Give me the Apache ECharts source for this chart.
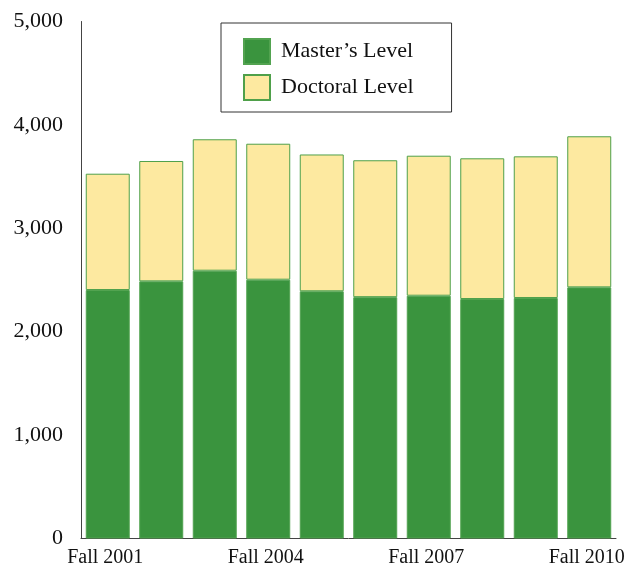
<!DOCTYPE html>
<html>
<head>
<meta charset="utf-8">
<script src="https://cdn.jsdelivr.net/npm/echarts@6/dist/echarts.min.js"></script>
<style>
html,body{margin:0;padding:0;background:#fff;}
#chart{width:628px;height:571px;}
</style>
</head>
<body>
<div id="chart"></div>
<script>
const categories = ["Fall 2001","Fall 2002","Fall 2003","Fall 2004","Fall 2005","Fall 2006","Fall 2007","Fall 2008","Fall 2009","Fall 2010"];
const mastersLevel = [2403, 2487, 2590, 2503, 2391, 2334, 2348, 2316, 2326, 2429];
const doctoralLevel = [1125, 1164, 1271, 1315, 1323, 1324, 1354, 1361, 1370, 1461];
const yTicks = [0, 1000, 2000, 3000, 4000, 5000];

const chart = echarts.init(document.getElementById('chart'), null, {renderer:'canvas'});
const font = '"Liberation Serif", "Times New Roman", serif';
chart.setOption({
  animation: false,
  backgroundColor: '#ffffff',
  grid: {left: 81, right: 12, top: 21.5, bottom: 32.5, containLabel: false},
  legend: {
    orient: 'vertical',
    left: 221, top: 23,
    padding: [15, 38, 11, 22],
    itemWidth: 26, itemHeight: 25, itemGap: 9,
    icon: 'rect',
    borderColor: '#333', borderWidth: 1,
    backgroundColor: '#fff',
    textStyle: {fontFamily: font, fontSize: 22, color: '#111', padding: [0,0,0,6]},
    data: ['Master’s Level', 'Doctoral Level']
  },
  xAxis: {
    type: 'category',
    data: categories,
    axisLine: {show: true, lineStyle: {color: '#444', width: 1}},
    axisTick: {show: false},
    axisLabel: {interval: 2, fontFamily: font, fontSize: 20, color: '#111', margin: 9, padding: [0, 5, 0, 0]}
  },
  yAxis: {
    type: 'value',
    min: yTicks[0], max: yTicks[yTicks.length-1], interval: 1000,
    axisLine: {show: true, lineStyle: {color: '#444', width: 1}},
    axisTick: {show: false},
    splitLine: {show: false},
    axisLabel: {
      fontFamily: font, fontSize: 22, color: '#111', margin: 18,
      formatter: v => v.toLocaleString('en-US')
    }
  },
  series: [
    {
      name: 'Master’s Level', type: 'bar', stack: 'total',
      data: mastersLevel,
      barCategoryGap: '17.8%',
      itemStyle: {color: '#3a943e', borderColor: '#52a350', borderWidth: 1}
    },
    {
      name: 'Doctoral Level', type: 'bar', stack: 'total',
      data: doctoralLevel,
      barCategoryGap: '17.8%',
      itemStyle: {color: '#fde9a0', borderColor: '#4fa04a', borderWidth: 1}
    }
  ]
});
</script>
</body>
</html>
